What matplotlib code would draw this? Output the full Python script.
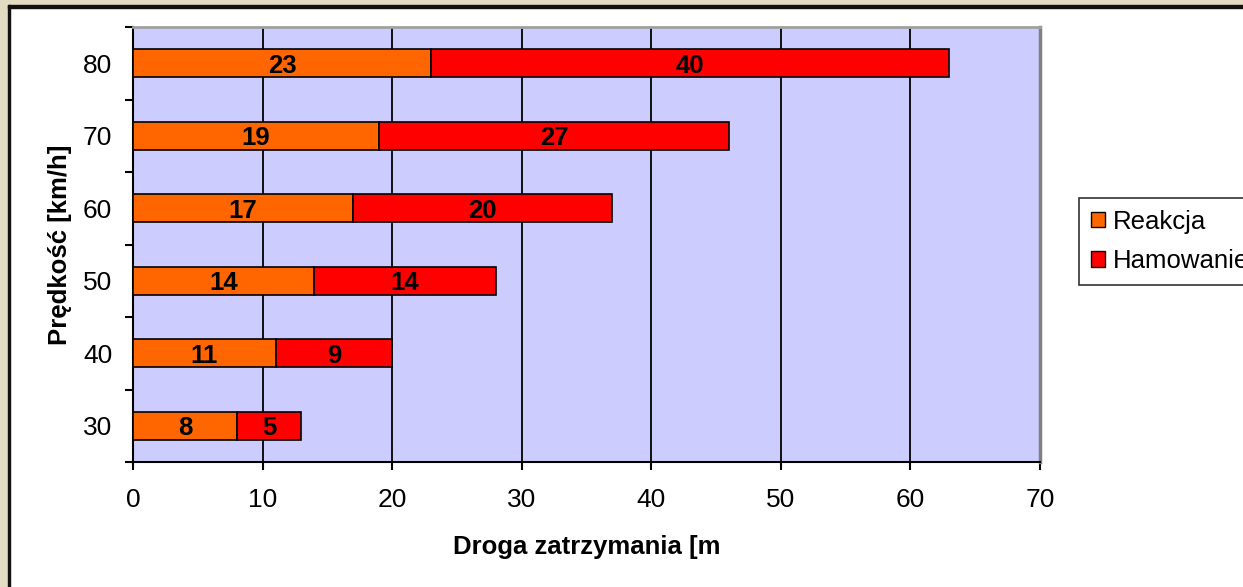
import matplotlib.pyplot as plt
from matplotlib.patches import Rectangle, Patch

# Dane
predkosci = ['30', '40', '50', '60', '70', '80']
reakcja = [8, 11, 14, 17, 19, 23]
hamowanie = [5, 9, 14, 20, 27, 40]

plt.rcParams['font.family'] = ['Liberation Sans', 'DejaVu Sans']

W, H = 1243, 587
fig = plt.figure(figsize=(W / 100, H / 100), dpi=100, facecolor='white')

# Ramka zewnetrzna (bezowy pasek + czarna linia)
beige = '#e4dcc2'
fig.patches.append(Rectangle((0, 0), 8 / W, 1, transform=fig.transFigure, color=beige, zorder=0))
fig.patches.append(Rectangle((0, 1 - 5 / H), 1, 5 / H, transform=fig.transFigure, color=beige, zorder=0))
fig.patches.append(Rectangle((8 / W, 0), 2.5 / W, 1 - 5 / H, transform=fig.transFigure, color='#111111', zorder=1))
fig.patches.append(Rectangle((8 / W, 1 - 7.5 / H), 1 - 8 / W, 2.5 / H, transform=fig.transFigure, color='#111111', zorder=1))

ax = fig.add_axes([133 / W, 1 - 462 / H, (1040 - 133) / W, (462 - 27) / H])
ax.set_facecolor('#ccccff')

y = range(len(predkosci))
ax.barh(y, reakcja, height=0.38, color='#ff6600', edgecolor='black', linewidth=1.2, zorder=3, label='Reakcja')
ax.barh(y, hamowanie, left=reakcja, height=0.38, color='#ff0000', edgecolor='black', linewidth=1.2, zorder=3, label='Hamowanie')

# Etykiety na slupkach
for i in y:
    ax.text(reakcja[i] / 2, i, str(reakcja[i]), ha='center', va='center_baseline', fontsize=18.5, fontweight='bold', zorder=4)
    ax.text(reakcja[i] + hamowanie[i] / 2, i, str(hamowanie[i]), ha='center', va='center_baseline', fontsize=18.5, fontweight='bold', zorder=4)

ax.set_xlim(0, 70)
ax.set_ylim(-0.5, 5.5)
ax.set_xticks(range(0, 71, 10))
ax.set_yticks(list(y))
ax.set_yticklabels(predkosci)
ax.set_yticks([i - 0.5 for i in range(7)], minor=True)
ax.tick_params(axis='y', which='major', length=0, pad=15, labelsize=19)
ax.tick_params(axis='y', which='minor', length=6, width=1.5, direction='out')
ax.tick_params(axis='x', length=6, width=1.5, direction='out', pad=13, labelsize=19)

ax.grid(axis='x', color='black', linewidth=1.3, zorder=1)
ax.set_axisbelow(True)

for s in ['left', 'bottom']:
    ax.spines[s].set_color('black')
    ax.spines[s].set_linewidth(1.5)
ax.spines['top'].set_color('#a0a0a0')
ax.spines['top'].set_linewidth(2)
ax.spines['right'].set_color('#808080')
ax.spines['right'].set_linewidth(2.5)

ax.set_xlabel('Droga zatrzymania [m', fontsize=18.5, fontweight='bold', labelpad=16)
ax.set_ylabel('Prędkość [km/h]', fontsize=18.5, fontweight='bold', labelpad=8)

# Legenda (w oryginale uciete przy prawej krawedzi)
handles = [Patch(facecolor='#ff6600', edgecolor='black'), Patch(facecolor='#ff0000', edgecolor='black')]
leg = fig.legend(handles, ['Reakcja', 'Hamowanie'], loc='upper left',
                 bbox_to_anchor=(1079 / W, 1 - 198 / H), fontsize=18.5, frameon=True,
                 fancybox=False, handlelength=0.55, handleheight=0.55, handletextpad=0.3,
                 borderpad=0.45, labelspacing=0.6, borderaxespad=0)
leg.get_frame().set_edgecolor('black')
leg.get_frame().set_linewidth(1.2)

fig.savefig('out.png', dpi=100, facecolor='white')
